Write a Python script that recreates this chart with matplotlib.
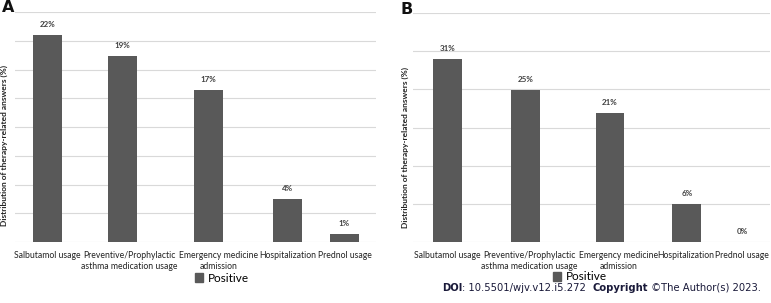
import matplotlib
matplotlib.use("Agg")
import matplotlib.pyplot as plt
from matplotlib.patches import Patch
import numpy as np

categories = ["Salbutamol usage", "Preventive/Prophylactic\nasthma medication usage",
              "Emergency medicine\nadmission", "Hospitalization", "Prednol usage"]
values_a = [21.6, 19.4, 15.9, 4.5, 0.8]
labels_a = ["22%", "19%", "17%", "4%", "1%"]
values_b = [28.8, 23.9, 20.3, 6.0, 0.0]
labels_b = ["31%", "25%", "21%", "6%", "0%"]
series_name = "Positive"
ylabel = "Distribution of therapy-related answers (%)"

# layout: category slot positions (uneven spacing as in the source layout)
slots_a = [0.0, 1.01, 2.17, 3.23, 4.0]
ticks_a = [0.0, 1.10, 2.30, 3.23, 4.01]
slots_b = [0.0, 1.054, 2.20, 3.24, 3.99]
ticks_b = [0.0, 1.11, 2.31, 3.22, 3.99]

BAR = "#595959"
GRID = "#d9d9d9"
TXT = "#404040"
FONT = "Lato"

fig = plt.figure(figsize=(7.71, 3.03), dpi=100)
W, H = 771, 303

def px_axes(x0, y0, x1, y1):
    return fig.add_axes([x0 / W, 1 - y1 / H, (x1 - x0) / W, (y1 - y0) / H])

def draw(ax, vals, labs, slots, ticks, ymax, step, xlim, width):
    ax.bar(slots, vals, width=width, color=BAR, zorder=3)
    ax.set_ylim(0, ymax)
    ax.set_xlim(*xlim)
    ax.set_yticks(np.arange(0, ymax + 0.01, step))
    ax.yaxis.grid(True, color=GRID, lw=0.8, zorder=0)
    ax.tick_params(axis="y", left=False, labelleft=False)
    ax.tick_params(axis="x", bottom=False, pad=3)
    ax.set_xticks(ticks)
    ax.set_xticklabels(categories, fontsize=6.2, family=FONT, color="#222222",
                       linespacing=1.3)
    for s in ax.spines.values():
        s.set_visible(False)
    for xi, v, l in zip(slots, vals, labs):
        ax.annotate(l, (xi, v), xytext=(0, 5), textcoords="offset points",
                    ha="center", va="bottom", fontsize=5.8, fontweight="bold",
                    family=FONT, color=TXT)

axA = px_axes(15, 12, 376, 242)
draw(axA, values_a, labels_a, slots_a, ticks_a, 24, 3, (-0.438, 4.424), 0.39)
axB = px_axes(413, 13, 770, 242)
draw(axB, values_b, labels_b, slots_b, ticks_b, 36, 6, (-0.466, 4.365), 0.392)

fig.text(4 / W, 1 - 145 / H, ylabel, rotation=90, ha="center", va="center",
         fontsize=6.0, fontweight="bold", family=FONT, color="#222222")
fig.text(405 / W, 1 - 148 / H, ylabel, rotation=90, ha="center", va="center",
         fontsize=6.0, fontweight="bold", family=FONT, color="#222222")

fig.text(2 / W, 1 - 8 / H, "A", ha="left", va="center", fontsize=11.5,
         fontweight="bold", family="DejaVu Sans", color="#111111")
fig.text(400 / W, 1 - 9 / H, "B", ha="left", va="center", fontsize=11.5,
         fontweight="bold", family="DejaVu Sans", color="#111111")

for cx, cy in [(222, 278), (580, 277)]:
    fig.legend(handles=[Patch(color=BAR, label=series_name)], loc="center",
               bbox_to_anchor=(cx / W, 1 - cy / H), frameon=False,
               handlelength=0.7, handleheight=0.7, handletextpad=0.4,
               prop={"family": FONT, "size": 8.5})

ov = fig.add_axes([0, 0, 1, 1])
ov.axis("off")
ov.set_xlim(0, 1); ov.set_ylim(0, 1)
fs = 7.2
t1 = ov.text(442 / W, 1 - 288 / H, "DOI", fontsize=fs, fontweight="bold",
             family="DejaVu Sans", va="center", ha="left", color="#1a1a3a")
t2 = ov.annotate(": 10.5501/wjv.v12.i5.272  ", xy=(1, 0), xycoords=t1,
                 va="bottom", ha="left", fontsize=fs, family="DejaVu Sans", color="#1a1a3a")
t3 = ov.annotate("Copyright", xy=(1, 0), xycoords=t2, va="bottom", ha="left",
                 fontsize=fs, fontweight="bold", family="DejaVu Sans", color="#1a1a3a")
t4 = ov.annotate(" \u00a9The Author(s) 2023.", xy=(1, 0), xycoords=t3, va="bottom",
                 ha="left", fontsize=fs, family="DejaVu Sans", color="#1a1a3a")

fig.savefig("out.png", dpi=100)
